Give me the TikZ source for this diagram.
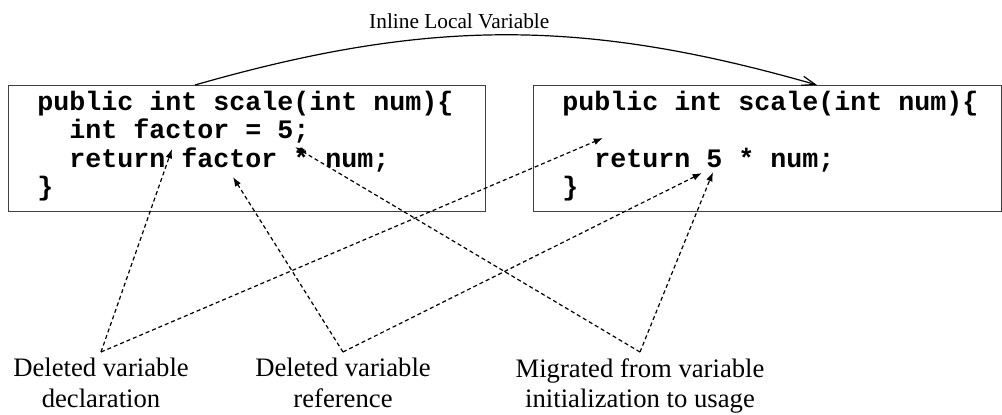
\documentclass[tikz,border=0pt]{standalone}
\usepackage{fontspec}
\setmainfont{Liberation Serif}
\setmonofont{Liberation Mono}
\usetikzlibrary{arrows.meta}
\tikzset{
  codebox/.style={draw=black!75, line width=0.9pt, anchor=north west, inner sep=0pt},
  codeline/.style={anchor=base west, inner sep=0pt, font=\fontsize{20}{21}\ttfamily\bfseries},
  notelabel/.style={anchor=north, align=center, inner xsep=0pt, inner ysep=4.5pt, font=\fontsize{20}{23}\selectfont},
  dotarrow/.style={-{Latex[length=7pt,width=5pt]}, dash pattern=on 3pt off 2.2pt, line width=0.9pt},
}

\begin{document}
\begin{tikzpicture}[x=0.75pt,y=-0.75pt]
\useasboundingbox (0,0) rectangle (1002,414);
% before
\node[codebox, minimum width=357.75pt, minimum height=94.5pt] (oldbox) at (8,85) {};
\node[codeline] (old1) at (37,110) {public int scale(int num)\{};
\node[codeline] (old2) at (69,138.5) {int factor = 5;};
\node[codeline] (old3) at (69,167) {return factor * num;};
\node[codeline] (old4) at (37,195) {\}};
% after
\node[codebox, minimum width=351pt, minimum height=94.5pt] (newbox) at (533,85) {};
\node[codeline] (new1) at (562,110) {public int scale(int num)\{};
\node[codeline] (new3) at (594,167) {return 5 * num;};
\node[codeline] (new4) at (562,195) {\}};
% refactoring
\coordinate (flowstart) at (195,85);
\coordinate (flowend) at (817,85);
\draw[-{Straight Barb[length=10pt,width=7pt]}, line width=0.9pt] (flowstart) to[bend left=16] node[pos=0.42, above=5pt, inner sep=0pt, font=\fontsize{16}{18}\selectfont] (title) {Inline Local Variable} (flowend);
% notes
\node[notelabel] (decl) at (101,352) {Deleted variable\\declaration};
\node[notelabel] (refer) at (343,352) {Deleted variable\\reference};
\node[notelabel] (migr) at (640,352) {Migrated from variable\\initialization to usage};
\coordinate (declsrc) at (172,149);
\coordinate (declnew) at (603,138);
\coordinate (refsrc) at (233,177);
\coordinate (refnew) at (702,173);
\coordinate (initsrc) at (295,147);
\coordinate (usenew) at (713,172);
\draw[dotarrow] (decl.north) -- (declsrc);
\draw[dotarrow] (decl.north) -- (declnew);
\draw[dotarrow] (refer.north) -- (refsrc);
\draw[dotarrow] (refer.north) -- (refnew);
\draw[dotarrow] (migr.north) -- (initsrc);
\draw[dotarrow] (migr.north) -- (usenew);
\end{tikzpicture}
\end{document}
